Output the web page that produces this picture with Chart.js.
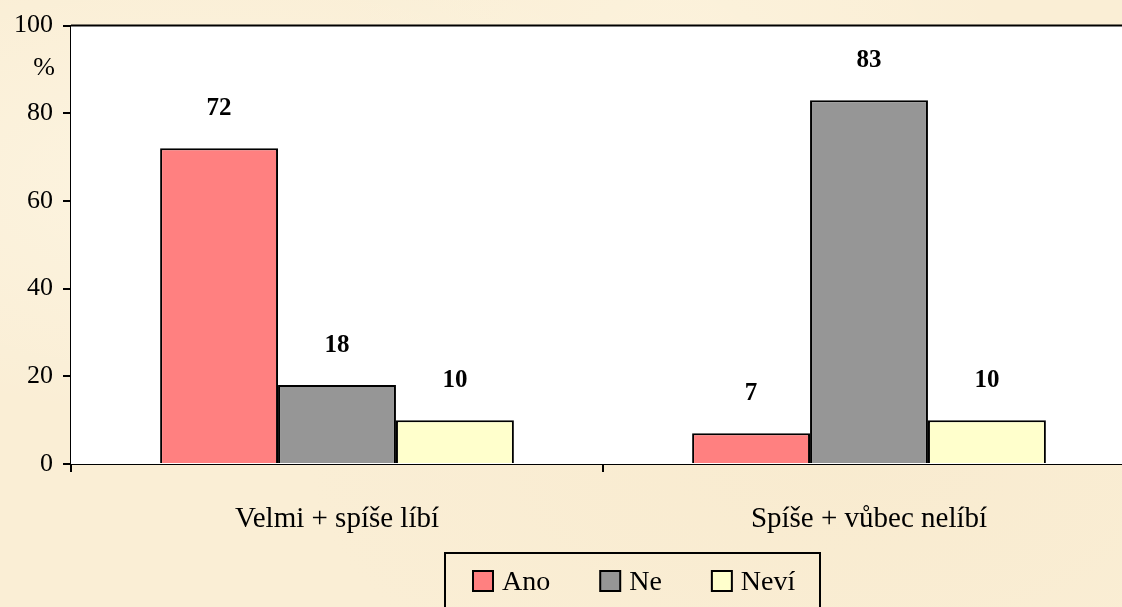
<!DOCTYPE html>
<html>
<head>
<meta charset="utf-8">
<script src="https://cdn.jsdelivr.net/npm/chart.js@4"></script>
<style>
  html, body { margin: 0; padding: 0; }
  body {
    width: 1122px; height: 607px; overflow: hidden;
    background-color: #faeed5;
    background-image:
      radial-gradient(ellipse at 20% 30%, rgba(255,250,236,0.5), rgba(255,250,236,0) 40%),
      radial-gradient(ellipse at 75% 75%, rgba(245,228,195,0.3), rgba(245,228,195,0) 45%),
      radial-gradient(ellipse at 60% 10%, rgba(255,248,230,0.4), rgba(255,248,230,0) 35%);
  }
  #wrap { position: relative; width: 1136px; height: 607px; }
</style>
</head>
<body>
<div id="wrap"><canvas id="chart"></canvas></div>
<script>
// Datos del gráfico
const categorias = ["Velmi + spíše líbí", "Spíše + vůbec nelíbí"];
const ano = [72, 7];
const ne = [18, 83];
const nevi = [10, 10];
const serieNombres = ["Ano", "Ne", "Neví"];
const serieColores = ["#ff8080", "#969696", "#ffffcc"];
const ticksY = [0, 20, 40, 60, 80, 100];

const fuente = "'Liberation Serif', 'Times New Roman', serif";

// Fondo blanco del área y línea superior
const areaPlugin = {
  id: "area",
  beforeDatasetsDraw: (chart) => {
    const { ctx, chartArea } = chart;
    ctx.save();
    ctx.fillStyle = "#ffffff";
    ctx.fillRect(chartArea.left, chartArea.top, chartArea.right - chartArea.left, chartArea.bottom - chartArea.top);
    ctx.restore();
  },
  afterDraw: (chart) => {
    const { ctx, chartArea } = chart;
    ctx.save();
    ctx.strokeStyle = "#000";
    ctx.lineWidth = 2;
    ctx.beginPath();
    ctx.moveTo(chartArea.left, chartArea.top);
    ctx.lineTo(chartArea.right, chartArea.top);
    ctx.stroke();
    // símbolo % bajo el 100
    ctx.fillStyle = "#000";
    ctx.font = "26px " + fuente;
    ctx.textAlign = "center";
    ctx.textBaseline = "middle";
    ctx.fillText("%", 44, 68);
    ctx.restore();
  },
};

// Etiquetas de valores encima de las barras
const valoresPlugin = {
  id: "valores",
  afterDatasetsDraw: (chart) => {
    const { ctx } = chart;
    ctx.save();
    ctx.fillStyle = "#000";
    ctx.font = "bold 25px " + fuente;
    ctx.textAlign = "center";
    ctx.textBaseline = "middle";
    chart.data.datasets.forEach((ds, i) => {
      chart.getDatasetMeta(i).data.forEach((bar, j) => {
        ctx.fillText(String(ds.data[j]), bar.x, bar.y - 40);
      });
    });
    ctx.restore();
  },
};

// Leyenda con marco
const leyendaPlugin = {
  id: "leyenda",
  afterDraw: (chart) => {
    const { ctx } = chart;
    ctx.save();
    ctx.strokeStyle = "#000";
    ctx.lineWidth = 2;
    ctx.strokeRect(445, 553, 375, 70);
    ctx.font = "28px " + fuente;
    ctx.textBaseline = "middle";
    ctx.textAlign = "left";
    let x = 473;
    chart.data.datasets.forEach((ds) => {
      ctx.fillStyle = ds.backgroundColor;
      ctx.fillRect(x, 571, 20, 20);
      ctx.lineWidth = 2;
      ctx.strokeRect(x, 571, 20, 20);
      ctx.fillStyle = "#000";
      ctx.fillText(ds.label, x + 29, 583);
      x += 29 + ctx.measureText(ds.label).width + 50;
    });
    ctx.restore();
  },
};

const series = [ano, ne, nevi];

new Chart(document.getElementById("chart"), {
  type: "bar",
  data: {
    labels: categorias,
    datasets: series.map((vals, i) => ({
      label: serieNombres[i],
      data: vals,
      backgroundColor: serieColores[i],
      borderColor: "#000",
      borderWidth: 2,
      barPercentage: 1,
      categoryPercentage: 0.665,
    })),
  },
  options: {
    responsive: true,
    maintainAspectRatio: false,
    animation: false,
    layout: { padding: { top: 23, left: 0, right: 1, bottom: 0 } },
    plugins: {
      legend: { display: false },
      tooltip: { enabled: false },
    },
    scales: {
      x: {
        border: { display: true, color: "#000", width: 2 },
        grid: { display: true, drawOnChartArea: false, drawTicks: true, tickLength: 8, color: "#000", lineWidth: 2, offset: true },
        ticks: { font: { size: 29, family: fuente }, color: "#000", padding: 30, maxRotation: 0 },
        afterFit: (scale) => { scale.height = 143; },
      },
      y: {
        min: 0,
        max: 100,
        afterBuildTicks: (scale) => { scale.ticks = ticksY.map((v) => ({ value: v })); },
        border: { display: true, color: "#000", width: 2 },
        grid: { display: true, drawOnChartArea: false, drawTicks: true, tickLength: 8, color: "#000", lineWidth: 2 },
        ticks: { font: { size: 26, family: fuente }, color: "#000", padding: 10 },
        afterFit: (scale) => { scale.width = 71; },
      },
    },
  },
  plugins: [areaPlugin, valoresPlugin, leyendaPlugin],
});
</script>
</body>
</html>
